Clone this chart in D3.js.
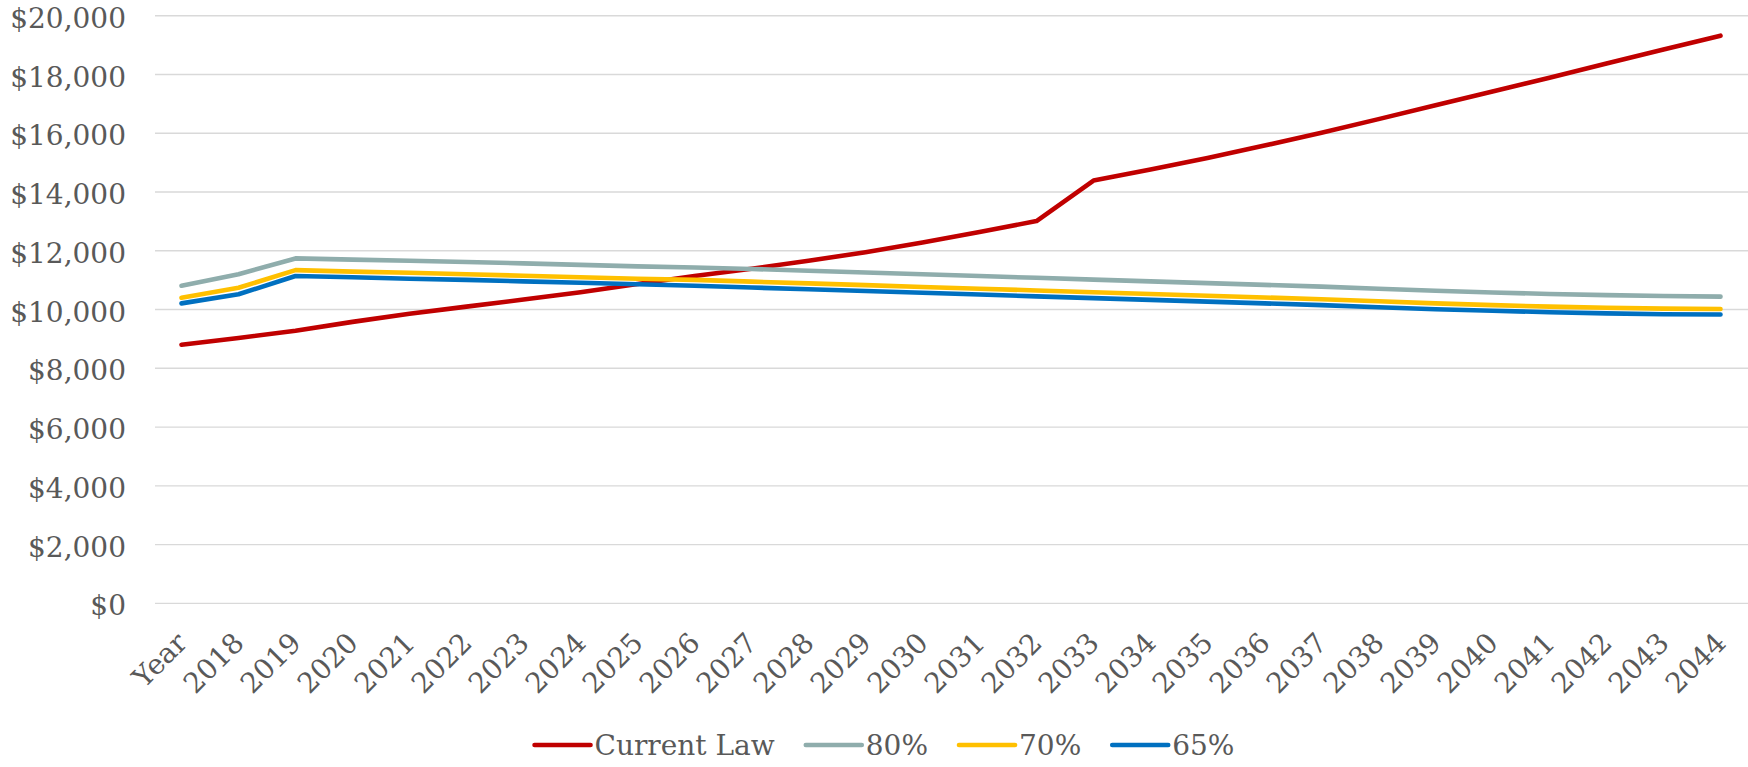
<!DOCTYPE html>
<html>
<head>
<meta charset="utf-8">
<script src="https://cdn.jsdelivr.net/npm/d3@7"></script>
<style>
  html, body { margin: 0; padding: 0; background: #ffffff; }
  svg { display: block; }
</style>
</head>
<body>
<svg id="chart" width="1748" height="767"></svg>
<script>
// Category labels along the x axis
const categories = ["Year", "2018", "2019", "2020", "2021", "2022", "2023", "2024", "2025",
  "2026", "2027", "2028", "2029", "2030", "2031", "2032", "2033", "2034", "2035", "2036",
  "2037", "2038", "2039", "2040", "2041", "2042", "2043", "2044"];

// Series values (dollars)
const currentLaw = [8800, 9030, 9280, 9580, 9860, 10100, 10340, 10590, 10870, 11140, 11390,
  11660, 11950, 12280, 12640, 13010, 14390, 14770, 15160, 15580, 16020, 16480, 16950, 17420,
  17890, 18370, 18850, 19320];
const pct80 = [10810, 11200, 11740, 11700, 11660, 11620, 11570, 11520, 11470, 11430, 11380,
  11320, 11260, 11200, 11140, 11080, 11020, 10960, 10900, 10840, 10780, 10710, 10640, 10580,
  10530, 10490, 10460, 10440];
const pct70 = [10400, 10740, 11340, 11290, 11250, 11200, 11150, 11100, 11050, 11010, 10950,
  10890, 10830, 10770, 10710, 10650, 10590, 10530, 10470, 10410, 10350, 10280, 10210, 10150,
  10100, 10060, 10030, 10020];
const pct65 = [10210, 10520, 11140, 11100, 11050, 11010, 10960, 10910, 10860, 10810, 10750,
  10690, 10630, 10570, 10510, 10450, 10390, 10330, 10270, 10210, 10150, 10080, 10010, 9960,
  9910, 9870, 9840, 9830];

const seriesNames = ["Current Law", "80%", "70%", "65%"];
const seriesValues = [currentLaw, pct80, pct70, pct65];

// Y axis tick values
const yTicks = [0, 2000, 4000, 6000, 8000, 10000, 12000, 14000, 16000, 18000, 20000];

const seriesColor = d3.scaleOrdinal()
  .domain(seriesNames)
  .range(["#C00000", "#8FADAC", "#FFC000", "#0070C0"]);

const svg = d3.select("#chart");
const textColor = "#595959";
const font = "'DejaVu Serif', 'Liberation Serif', serif";

const plot = { left: 153, right: 1749, top: 15.7, bottom: 603.4 };

const x = d3.scalePoint()
  .domain(categories)
  .range([plot.left, plot.right])
  .padding(0.5);

const y = d3.scaleLinear()
  .domain([0, 20000])
  .range([plot.bottom, plot.top]);

// Horizontal gridlines
svg.append("g")
  .selectAll("line")
  .data(yTicks)
  .join("line")
  .attr("x1", 155)
  .attr("x2", 1748)
  .attr("y1", d => y(d))
  .attr("y2", d => y(d))
  .attr("stroke", "#D9D9D9")
  .attr("stroke-width", 1.4);

// Y axis labels
const fmt = d => "$" + d3.format(",")(d);
svg.append("g")
  .selectAll("text")
  .data(yTicks)
  .join("text")
  .attr("x", 126)
  .attr("y", d => y(d) + 2)
  .attr("dy", "0.36em")
  .attr("text-anchor", "end")
  .attr("font-family", font)
  .attr("font-size", 28)
  .attr("fill", textColor)
  .text(fmt);

// X axis labels, rotated
svg.append("g")
  .selectAll("text")
  .data(categories)
  .join("text")
  .attr("transform", d => `translate(${x(d)},${plot.bottom + 34}) rotate(-45)`)
  .attr("dy", "0.36em")
  .attr("text-anchor", "end")
  .attr("font-family", font)
  .attr("font-size", 28)
  .attr("fill", textColor)
  .text(d => d);

// Series lines
const line = d3.line()
  .x((d, i) => x(categories[i]))
  .y(d => y(d));

svg.append("g")
  .selectAll("path")
  .data(seriesNames)
  .join("path")
  .attr("d", (name, k) => line(seriesValues[k]))
  .attr("fill", "none")
  .attr("stroke", d => seriesColor(d))
  .attr("stroke-width", 4.6)
  .attr("stroke-linejoin", "round")
  .attr("stroke-linecap", "round");

// Legend
const legend = svg.append("g");
const legendY = 745;
const swatchLen = 56;
const items = legend.selectAll("g")
  .data(seriesNames)
  .join("g");
items.append("line")
  .attr("x1", 0).attr("x2", swatchLen)
  .attr("y1", legendY).attr("y2", legendY)
  .attr("stroke", d => seriesColor(d))
  .attr("stroke-width", 4.6)
  .attr("stroke-linecap", "round");
items.append("text")
  .attr("x", swatchLen + 4)
  .attr("y", legendY)
  .attr("dy", "0.36em")
  .attr("font-family", font)
  .attr("font-size", 28)
  .attr("fill", textColor)
  .text(d => d);

let offset = 0;
const positions = [];
items.each(function() {
  const w = swatchLen + 4 + d3.select(this).select("text").node().getComputedTextLength();
  positions.push(offset);
  offset += w + 31;
});
const totalWidth = offset - 31;
const startX = 884.5 - totalWidth / 2;
items.attr("transform", (d, i) => `translate(${startX + positions[i]},0)`);
</script>
</body>
</html>
